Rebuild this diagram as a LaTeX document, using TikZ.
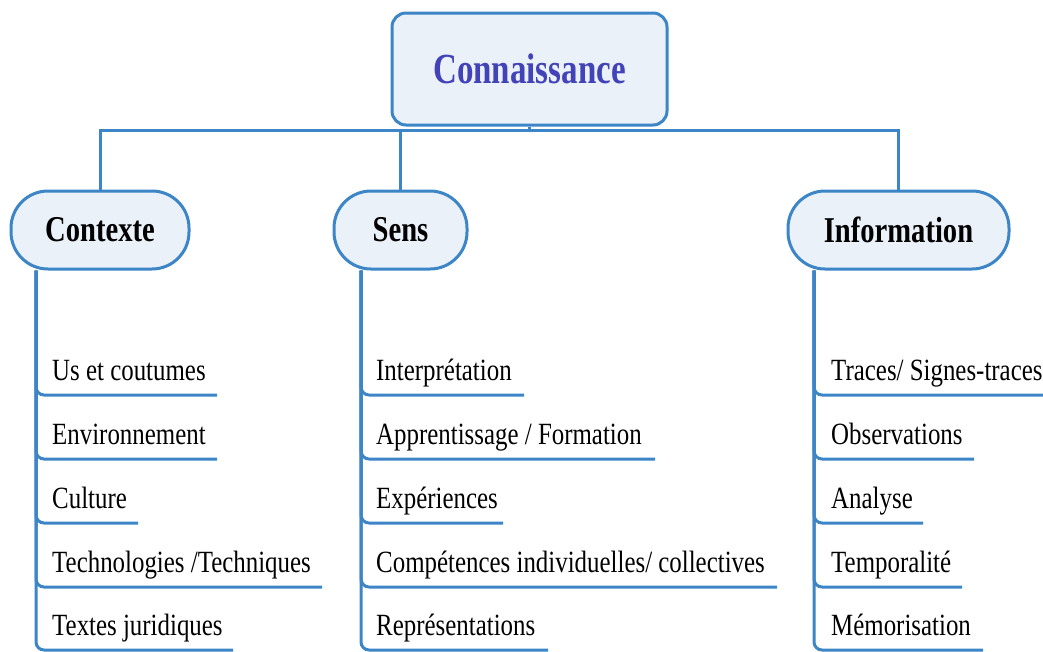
\documentclass[tikz,border=0pt]{standalone}
\usepackage{fontspec}
\setmainfont{Liberation Serif}
\usepackage{graphicx}
\definecolor{lineblue}{HTML}{3C85C6}
\definecolor{boxfill}{HTML}{EAF1F9}
\definecolor{titleblue}{HTML}{4343B8}
\begin{document}
\begin{tikzpicture}[x=1pt,y=-1pt,
  link/.style={draw=lineblue, line width=3pt},
  branch/.style={link, rounded corners=8pt},
  rootbox/.style={draw=lineblue, line width=3pt, fill=boxfill, rounded corners=14pt,
    minimum width=275pt, minimum height=112pt, inner sep=0pt},
  headbox/.style={draw=lineblue, line width=3pt, fill=boxfill, rounded corners=37pt,
    minimum height=78pt, inner sep=0pt},
  item/.style={anchor=base west, inner sep=0pt}]
\useasboundingbox (0,0) rectangle (1043,651);
\newcommand{\headtxt}[1]{\fontsize{28.6}{34}\selectfont\bfseries\scalebox{1}[1.27]{#1}}
\newcommand{\itemtxt}[1]{\fontsize{24.9}{30}\selectfont\scalebox{1}[1.24]{#1}}

% root
\node[rootbox] (conn) at (529.5,69)
  {\fontsize{33}{40}\selectfont\bfseries\color{titleblue}\scalebox{1}[1.3]{Connaissance}};

% heads
\node[headbox, minimum width=178pt] (ctx) at (100,230) {\headtxt{Contexte}};
\node[headbox, minimum width=133pt] (sens) at (400.5,230) {\headtxt{Sens}};
\node[headbox, minimum width=221pt] (info) at (898.5,230) {\headtxt{Information}};

% bus
\coordinate (bus) at (0,130);
\draw[link] (conn.south) -- (conn.south |- bus);
\draw[link] (ctx.north) -- (ctx.north |- bus) -- (info.north |- bus) -- (info.north);
\draw[link] (sens.north) -- (sens.north |- bus);

% spines
\coordinate (cs) at (36,0);
\coordinate (ss) at (361,0);
\coordinate (is) at (814,0);

% Contexte items
\foreach \i/\y/\e/\t in {1/395/217/{Us et coutumes},2/459/217/{Environnement},3/523/138/{Culture},
  4/587/322/{Technologies /Techniques},5/650/233/{Textes juridiques}}{
  \node[item] (c\i) at (52,\y-15) {\itemtxt{\t}};
  \coordinate (c\i e) at (\e,\y);
  \draw[branch] (ctx.south -| cs) |- (c\i e);
}

% Sens items
\foreach \i/\y/\e/\t in {1/395/524/{Interprétation},2/459/655/{Apprentissage / Formation},3/523/503/{Expériences},
  4/587/777/{Compétences individuelles/ collectives},5/650/548/{Représentations}}{
  \node[item] (s\i) at (376,\y-15) {\itemtxt{\t}};
  \coordinate (s\i e) at (\e,\y);
  \draw[branch] (sens.south -| ss) |- (s\i e);
}

% Information items
\foreach \i/\y/\e/\t in {1/395/1043/{Traces/ Signes-traces},2/459/974/{Observations},3/523/923/{Analyse},
  4/587/962/{Temporalité},5/650/983/{Mémorisation}}{
  \node[item] (n\i) at (831,\y-15) {\itemtxt{\t}};
  \coordinate (n\i e) at (\e,\y);
  \draw[branch] (info.south -| is) |- (n\i e);
}
\end{tikzpicture}
\end{document}
